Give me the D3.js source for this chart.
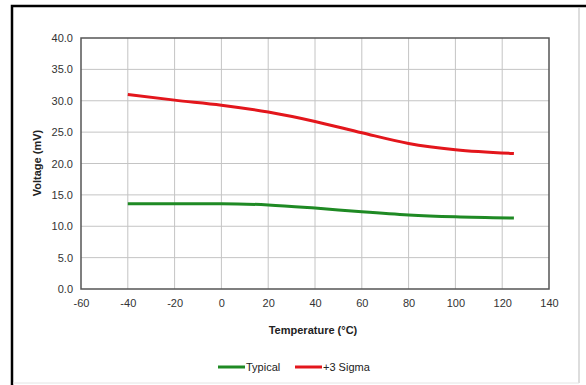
<!DOCTYPE html>
<html>
<head>
<meta charset="utf-8">
<script src="https://cdn.jsdelivr.net/npm/d3@7"></script>
<style>
  html, body { margin: 0; padding: 0; background: #fff; }
  svg { display: block; font-family: "Liberation Sans", Arial, sans-serif; }
</style>
</head>
<body>
<svg id="chart" width="586" height="385"></svg>
<script>
const temps = [-40, -20, 0, 20, 40, 60, 80, 100, 125];
const typical = [13.6, 13.6, 13.6, 13.4, 12.9, 12.3, 11.8, 11.5, 11.3];
const sigma3 = [31.0, 30.1, 29.3, 28.2, 26.7, 24.9, 23.2, 22.2, 21.6];
const xTicks = [-60, -40, -20, 0, 20, 40, 60, 80, 100, 120, 140];
const yTicks = [0, 5, 10, 15, 20, 25, 30, 35, 40];
const seriesNames = ["Typical", "+3 Sigma"];
const seriesColors = ["#1f8a24", "#e3161c"];

const svg = d3.select("#chart");

// outer frame
svg.append("rect").attr("x", 12).attr("y", 6).attr("width", 580).attr("height", 400)
  .attr("fill", "none").attr("stroke", "#000").attr("stroke-width", 2.5);
svg.append("line").attr("x1", 579).attr("x2", 579).attr("y1", 7).attr("y2", 383)
  .attr("stroke", "#bbb").attr("stroke-width", 1);
svg.append("line").attr("x1", 13).attr("x2", 579).attr("y1", 383).attr("y2", 383)
  .attr("stroke", "#e4e4e4").attr("stroke-width", 1);

const x = d3.scaleLinear().domain([-60, 140]).range([81, 549]);
const y = d3.scaleLinear().domain([0, 40]).range([289, 38]);

// grid
const g = svg.append("g");
g.selectAll("line.vg").data(xTicks.slice(1, -1)).join("line")
  .attr("x1", d => x(d)).attr("x2", d => x(d)).attr("y1", y(40)).attr("y2", y(0))
  .attr("stroke", "#c4c4c4").attr("stroke-width", 1);
g.selectAll("line.hg").data(yTicks.slice(1, -1)).join("line")
  .attr("x1", x(-60)).attr("x2", x(140)).attr("y1", d => y(d)).attr("y2", d => y(d))
  .attr("stroke", "#c4c4c4").attr("stroke-width", 1);

// axes
const xAxis = d3.axisBottom(x).tickValues(xTicks).tickSize(0).tickPadding(10).tickFormat(d => String(d));
const yAxis = d3.axisLeft(y).tickValues(yTicks).tickSize(0).tickPadding(8).tickFormat(d => d.toFixed(1));
const gx = svg.append("g").attr("transform", `translate(0,${y(0)})`).call(xAxis);
const gy = svg.append("g").attr("transform", `translate(${x(-60)},0)`).call(yAxis);
[gx, gy].forEach(a => {
  a.select(".domain").remove();
  a.selectAll("text").attr("font-size", 11).attr("fill", "#333")
    .attr("font-family", "'Liberation Sans', Arial, sans-serif");
});

// plot frame
svg.append("rect").attr("x", x(-60)).attr("y", y(40))
  .attr("width", x(140) - x(-60)).attr("height", y(0) - y(40))
  .attr("fill", "none").attr("stroke", "#555").attr("stroke-width", 1.5);

// lines
const seriesData = [typical, sigma3];
const line = d3.line().x(d => x(d[0])).y(d => y(d[1])).curve(d3.curveMonotoneX);
seriesData.forEach((vals, i) => {
  svg.append("path").datum(temps.map((t, j) => [t, vals[j]]))
    .attr("d", line).attr("fill", "none")
    .attr("stroke", seriesColors[i]).attr("stroke-width", 3)
    .attr("stroke-linecap", "butt");
});

// axis titles
svg.append("text").attr("x", 313).attr("y", 334).attr("text-anchor", "middle")
  .attr("font-size", 11).attr("font-weight", "bold").attr("fill", "#222")
  .text("Temperature (°C)");
svg.append("text").attr("transform", "translate(41,163) rotate(-90)")
  .attr("text-anchor", "middle").attr("font-size", 11).attr("font-weight", "bold").attr("fill", "#222")
  .text("Voltage (mV)");

// legend
const legendX = [218, 295];
seriesNames.forEach((n, i) => {
  svg.append("line").attr("x1", legendX[i]).attr("x2", legendX[i] + 27)
    .attr("y1", 367).attr("y2", 367).attr("stroke", seriesColors[i]).attr("stroke-width", 3);
  svg.append("text").attr("x", legendX[i] + 28).attr("y", 371)
    .attr("font-size", 11).attr("fill", "#222").text(n);
});
</script>
</body>
</html>
